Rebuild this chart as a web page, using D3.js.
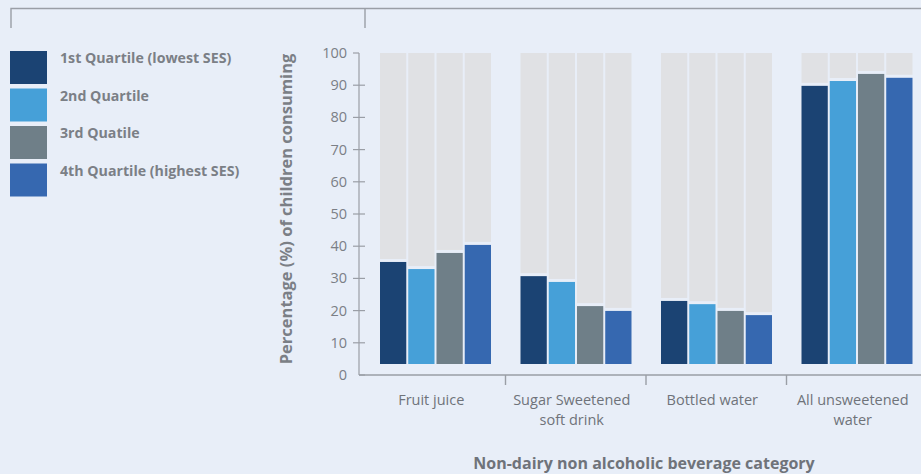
<!DOCTYPE html>
<html>
<head>
<meta charset="utf-8">
<script src="https://cdn.jsdelivr.net/npm/d3@7"></script>
<style>
  html, body { margin: 0; padding: 0; background: #e8eef8; }
  svg { display: block; font-family: "Open Sans", "Noto Sans", sans-serif; }
</style>
</head>
<body>
<svg id="chart" width="921" height="474"></svg>
<script>
// Beverage categories (x axis), each split into four SES quartiles
const categories = [
  ["Fruit juice"],
  ["Sugar Sweetened", "soft drink"],
  ["Bottled water"],
  ["All unsweetened", "water"]
];
const quartiles = [
  "1st Quartile (lowest SES)",
  "2nd Quartile",
  "3rd Quatile",
  "4th Quartile (highest SES)"
];
const quartileColors = ["#1b4373", "#46a0d8", "#6f7f88", "#3668b0"];

// Percentage of children consuming, per quartile (one array per category)
const fruitJuice     = [35.1, 32.9, 37.9, 40.4];
const sugarSweetened = [30.7, 28.9, 21.4, 19.9];
const bottledWater   = [23.0, 22.0, 19.9, 18.6];
const allUnsweetened = [89.8, 91.3, 93.5, 92.3];
const seriesValues = [fruitJuice, sugarSweetened, bottledWater, allUnsweetened];

const yTicks = [0, 10, 20, 30, 40, 50, 60, 70, 80, 90, 100];

const textGray = "#7b7f86";
const axisGray = "#9a9ea6";
const restGray = "#e0e1e4";

const svg = d3.select("#chart");

// Frame rule across the top
const frame = svg.append("g").attr("stroke", axisGray).attr("stroke-width", 1.4).attr("fill", "none");
frame.append("path").attr("d", "M11,28V8.5H921");
frame.append("path").attr("d", "M365,8.5V28");

// Scales
const y = d3.scaleLinear().domain([0, 100]).range([375, 53]);
const x = d3.scaleBand().domain(d3.range(categories.length)).range([365, 927]);
const xq = d3.scaleBand().domain(d3.range(quartiles.length))
  .range([15, 126]).paddingInner(0.07);

const baseLift = 11;   // bars sit slightly above the axis line
const gap = 3;         // gap between consumed and remainder segments

// Bars
const groups = svg.append("g").selectAll("g")
  .data(seriesValues)
  .join("g")
  .attr("transform", (d, i) => `translate(${x(i)},0)`);

groups.selectAll("rect.rest")
  .data(d => d)
  .join("rect")
  .attr("class", "rest")
  .attr("x", (d, j) => xq(j))
  .attr("width", xq.bandwidth())
  .attr("y", y(100))
  .attr("height", d => Math.max(0, y(d) - gap - y(100)))
  .attr("fill", restGray);

groups.selectAll("rect.val")
  .data(d => d)
  .join("rect")
  .attr("class", "val")
  .attr("x", (d, j) => xq(j))
  .attr("width", xq.bandwidth())
  .attr("y", d => y(d))
  .attr("height", d => (y(0) - baseLift) - y(d))
  .attr("fill", (d, j) => quartileColors[j]);

// Y axis
const yAxis = svg.append("g").attr("transform", "translate(359,0)");
yAxis.append("line")
  .attr("y1", y(100)).attr("y2", y(0))
  .attr("stroke", axisGray).attr("stroke-width", 1.2);
yAxis.selectAll("line.tick")
  .data(yTicks)
  .join("line")
  .attr("class", "tick")
  .attr("x1", d => d === 0 ? 0 : -6)
  .attr("x2", d => d === 100 ? 0 : 6)
  .attr("y1", d => y(d)).attr("y2", d => y(d))
  .attr("stroke", axisGray).attr("stroke-width", 1.2);
yAxis.selectAll("text")
  .data(yTicks)
  .join("text")
  .attr("x", -12)
  .attr("y", d => y(d))
  .attr("dy", "0.35em")
  .attr("text-anchor", "end")
  .attr("font-size", 14.5)
  .attr("fill", textGray)
  .text(d => d);

svg.append("text")
  .attr("transform", `translate(292,${(y(0) + y(100)) / 2 - 5}) rotate(-90)`)
  .attr("text-anchor", "middle")
  .attr("font-size", 16.5)
  .attr("font-weight", 700)
  .attr("fill", textGray)
  .text("Percentage (%) of children consuming");

// X axis
const xAxis = svg.append("g");
xAxis.append("line")
  .attr("x1", 359).attr("x2", 921)
  .attr("y1", y(0)).attr("y2", y(0))
  .attr("stroke", axisGray).attr("stroke-width", 1.4);
xAxis.selectAll("line.tick")
  .data(d3.range(1, categories.length))
  .join("line")
  .attr("class", "tick")
  .attr("x1", d => x(d)).attr("x2", d => x(d))
  .attr("y1", y(0)).attr("y2", y(0) + 10)
  .attr("stroke", axisGray).attr("stroke-width", 1.4);
const catLabels = xAxis.selectAll("text")
  .data(categories)
  .join("text")
  .attr("text-anchor", "middle")
  .attr("font-size", 14.5)
  .attr("fill", "#6f737a")
  .attr("transform", (d, i) => `translate(${x(i) + x.bandwidth() / 2 - 4},405)`);
catLabels.selectAll("tspan")
  .data(d => d)
  .join("tspan")
  .attr("x", 0)
  .attr("dy", (d, k) => k === 0 ? 0 : 20)
  .text(d => d);

svg.append("text")
  .attr("x", 644)
  .attr("y", 469)
  .attr("text-anchor", "middle")
  .attr("font-size", 16)
  .attr("font-weight", 700)
  .attr("fill", "#6f737a")
  .text("Non-dairy non alcoholic beverage category");

// Legend
const legend = svg.append("g").selectAll("g")
  .data(quartiles)
  .join("g")
  .attr("transform", (d, i) => `translate(10,${51 + i * 37.5})`);
legend.append("rect")
  .attr("width", 37).attr("height", 33)
  .attr("fill", (d, i) => quartileColors[i]);
legend.append("text")
  .attr("x", 50).attr("y", 12)
  .attr("font-size", 14.2)
  .attr("font-weight", 700)
  .attr("fill", textGray)
  .text(d => d);
</script>
</body>
</html>
